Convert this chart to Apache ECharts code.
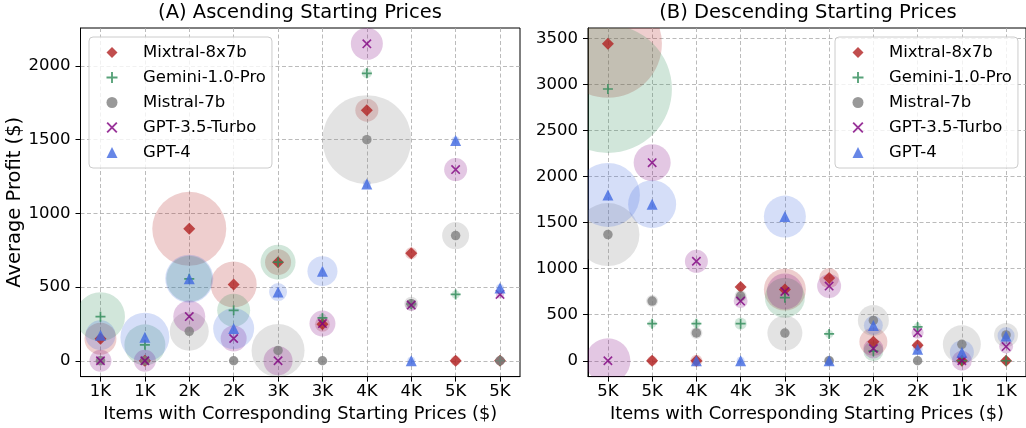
<!DOCTYPE html>
<html><head><meta charset="utf-8">
<script src="https://cdn.jsdelivr.net/npm/echarts@6/dist/echarts.min.js"></script>
<style>html,body{margin:0;padding:0;background:#fff}#c{width:1026px;height:428px}</style>
</head><body><div id="c"></div>
<script>
// ---------- data ----------
const models = ['Mixtral-8x7b', 'Gemini-1.0-Pro', 'Mistral-7b', 'GPT-3.5-Turbo', 'GPT-4'];
const categoriesA = ['1K', '1K', '2K', '2K', '3K', '3K', '4K', '4K', '5K', '5K'];
const categoriesB = ['5K', '5K', '4K', '4K', '3K', '3K', '2K', '2K', '1K', '1K'];
const yTicksA = [0, 500, 1000, 1500, 2000];
const yTicksB = [0, 500, 1000, 1500, 2000, 2500, 3000, 3500];

// (A) Ascending: average profit per item
const mixtralA = [150, 0, 895, 518, 669, 248, 1700, 730, 0, 0];
const geminiA  = [299, 108, 556, 342, 669, 291, 1950, 385, 450, 0];
const mistralA = [0, 0, 200, 0, 70, 0, 1500, 387, 849, 0];
const gpt35A   = [0, 0, 300, 151, 0, 252, 2150, 378, 1297, 450];
const gpt4A    = [173, 160, 556, 218, 466, 608, 1200, 0, 1495, 493];
// (A) bubble areas (spread, pt^2)
const mixtralSpreadA = [530, 52, 2834, 1095, 350, 116, 274, 75, 52, 33];
const geminiSpreadA  = [1243, 870, 1095, 564, 634, 33, 52, 33, 33, 33];
const mistralSpreadA = [52, 52, 787, 33, 1454, 33, 4100, 101, 377, 52];
const gpt35SpreadA   = [250, 250, 530, 350, 435, 350, 530, 75, 274, 33];
const gpt4SpreadA    = [466, 1243, 1193, 870, 168, 466, 33, 33, 33, 33];

// (B) Descending: average profit per item
const mixtralB = [3440, 0, 0, 800, 773, 897, 205, 168, 0, 0];
const geminiB  = [2950, 403, 403, 403, 685, 291, 104, 367, 0, 0];
const mistralB = [1370, 648, 302, 702, 300, 0, 438, 0, 178, 280];
const gpt35B   = [0, 2150, 1080, 648, 752, 811, 133, 305, 0, 154];
const gpt4B    = [1800, 1700, 0, 0, 1565, 0, 384, 125, 93, 270];
// (B) bubble areas (spread, pt^2)
const mixtralSpreadB = [6037, 52, 75, 33, 913, 207, 406, 52, 33, 33];
const geminiSpreadB  = [8481, 33, 33, 75, 828, 33, 207, 33, 33, 33];
const mistralSpreadB = [2054, 75, 75, 75, 634, 52, 497, 33, 747, 298];
const gpt35SpreadB   = [1048, 709, 274, 101, 671, 298, 207, 75, 207, 101];
const gpt4SpreadB    = [2120, 1193, 33, 33, 913, 33, 187, 52, 298, 150];

// ---------- styling ----------
const FONT = 'DejaVu Sans';
const colors = ['#b22222', '#2e8b57', '#808080', '#800080', '#4169e1'];
const bubbleColors = ['rgba(178,34,34,0.22)', 'rgba(46,139,87,0.22)', 'rgba(128,128,128,0.22)', 'rgba(128,0,128,0.22)', 'rgba(65,105,225,0.22)'];
const PLUS = 'path://M-1,-0.17L1,-0.17L1,0.17L-1,0.17Z M-0.17,-1L0.17,-1L0.17,1L-0.17,1Z';
const CROSS = 'path://M-1,-0.76L-0.76,-1L1,0.76L0.76,1Z M0.76,-1L1,-0.76L-0.76,1L-1,0.76Z';
const symbols = ['diamond', PLUS, 'circle', CROSS, 'triangle'];
const symbolSizes = [12, 10, 9.5, 9.5, 11];
const PX_PER_PT = 1.39;

const panelA = { vals: [mixtralA, geminiA, mistralA, gpt35A, gpt4A], spreads: [mixtralSpreadA, geminiSpreadA, mistralSpreadA, gpt35SpreadA, gpt4SpreadA] };
const panelB = { vals: [mixtralB, geminiB, mistralB, gpt35B, gpt4B], spreads: [mixtralSpreadB, geminiSpreadB, mistralSpreadB, gpt35SpreadB, gpt4SpreadB] };

function bubbleRenderer(fill) {
  return function (params, api) {
    const c = api.coord([api.value(0), api.value(1)]);
    const r = Math.sqrt(api.value(2)) * PX_PER_PT / 2;
    return { type: 'circle', shape: { cx: c[0], cy: c[1], r: r }, style: { fill: fill } };
  };
}

const series = [];
[panelA, panelB].forEach((p, pi) => {
  models.forEach((m, mi) => {
    series.push({
      type: 'custom', xAxisIndex: pi, yAxisIndex: pi, silent: true, clip: true,
      renderItem: bubbleRenderer(bubbleColors[mi]),
      encode: { x: 0, y: 1 },
      data: p.vals[mi].map((v, i) => [i, v, p.spreads[mi][i]])
    });
    series.push({
      type: 'scatter', name: m, xAxisIndex: pi, yAxisIndex: pi,
      symbol: symbols[mi], symbolSize: symbolSizes[mi],
      itemStyle: { color: colors[mi] },
      data: p.vals[mi].map((v, i) => [i, v])
    });
  });
});

const idx = categoriesA.map((_, i) => i);
function xAxis(gi, cats) {
  return {
    type: 'value', gridIndex: gi, min: -0.45, max: 9.45,
    name: 'Items with Corresponding Starting Prices ($)', nameLocation: 'middle', nameGap: 22,
    nameTextStyle: { fontFamily: FONT, fontSize: 17.8, color: '#000' },
    axisLine: { show: true, onZero: false, lineStyle: { color: '#000', width: 1 } },
    axisTick: { show: true, length: 5, customValues: idx, lineStyle: { color: '#000' } },
    axisLabel: { customValues: idx, margin: 6.5, fontFamily: FONT, fontSize: 16.5, color: '#000', formatter: v => cats[Math.round(v)] },
    splitLine: { show: true, lineStyle: { color: '#aaaaaa', type: [4, 2.5], width: 0.8 } }
  };
}
function yAxis(gi, min, max, ticks, named) {
  return {
    type: 'value', gridIndex: gi, min: min, max: max,
    name: named ? 'Average Profit ($)' : '', nameLocation: 'middle', nameGap: 42, nameRotate: 90,
    nameTextStyle: { fontFamily: FONT, fontSize: 19.5, color: '#000' },
    axisLine: { show: true, onZero: false, lineStyle: { color: '#000', width: 1 } },
    axisTick: { show: true, length: 5, customValues: ticks, lineStyle: { color: '#000' } },
    axisLabel: { customValues: ticks, margin: 10, fontFamily: FONT, fontSize: 16.5, color: '#000', formatter: v => String(Math.round(v)) },
    splitLine: { show: true, lineStyle: { color: '#aaaaaa', type: [4, 2.5], width: 0.8 } }
  };
}
function legend(left) {
  return {
    left: left, top: 37, orient: 'vertical', data: models, selectedMode: false,
    itemWidth: 11, itemHeight: 11, itemGap: 8,
    padding: [7, 6, 7, 17.5],
    textStyle: { fontFamily: FONT, fontSize: 16.5, color: '#000', padding: [0, 0, 0, 20.5] },
    backgroundColor: 'rgba(255,255,255,0.8)', borderColor: '#cccccc', borderWidth: 1, borderRadius: 4
  };
}

const chart = echarts.init(document.getElementById('c'), null, { renderer: 'canvas' });
chart.setOption({
  animation: false,
  backgroundColor: '#fff',
  title: [
    { text: '(A) Ascending Starting Prices', left: 300, top: 3, textAlign: 'center', padding: 0, textStyle: { fontFamily: FONT, fontSize: 19.5, fontWeight: 'normal', color: '#000' } },
    { text: '(B) Descending Starting Prices', left: 808, top: 3, textAlign: 'center', padding: 0, textStyle: { fontFamily: FONT, fontSize: 19.5, fontWeight: 'normal', color: '#000' } }
  ],
  grid: [
    { left: 80.5, top: 28, width: 439.5, height: 350, show: true, borderColor: '#000', borderWidth: 1, backgroundColor: 'transparent' },
    { left: 588, top: 28, width: 439.5, height: 350, show: true, borderColor: '#000', borderWidth: 1, backgroundColor: 'transparent' }
  ],
  xAxis: [xAxis(0, categoriesA), xAxis(1, categoriesB)],
  yAxis: [yAxis(0, -107.5, 2257.5, yTicksA, true), yAxis(1, -172, 3612, yTicksB, false)],
  legend: [legend(89), legend(835)],
  series: series
});
</script></body></html>
